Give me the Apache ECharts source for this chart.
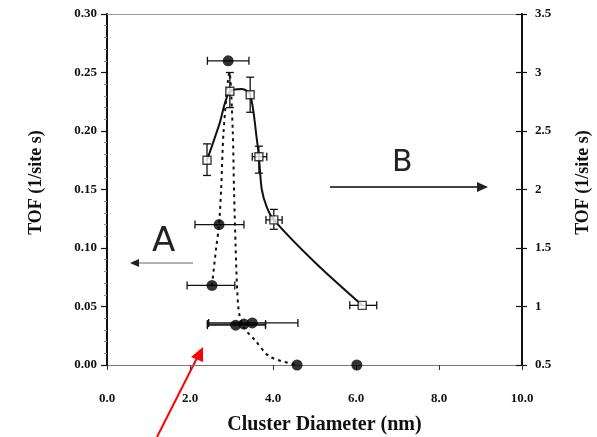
<!DOCTYPE html>
<html>
<head>
<meta charset="utf-8">
<script src="https://cdn.jsdelivr.net/npm/echarts@6/dist/echarts.min.js"></script>
<style>
  html, body { margin: 0; padding: 0; background: #fff; }
  #chart { width: 597px; height: 437px; }
</style>
</head>
<body>
<div id="chart"></div>
<script>
// filled circles, TOF on left axis: [diameter, tof, xLow, xHigh]
var filledPts = [
  [2.92, 0.260, 2.42, 3.42],
  [2.70, 0.120, 2.12, 3.30],
  [2.53, 0.068, 1.93, 3.08],
  [3.10, 0.034, 2.42, 3.82],
  [3.30, 0.035, 2.42, 3.82],
  [3.50, 0.036, 2.45, 4.60],
  [4.58, 0.000, null, null],
  [6.02, 0.000, null, null]
];
// dotted guide through the filled circles
var dottedCurve = [
  [2.53, 0.068], [2.63, 0.10], [2.70, 0.12], [2.75, 0.15], [2.81, 0.20],
  [2.95, 0.25], [3.03, 0.20], [3.06, 0.15], [3.10, 0.10], [3.13, 0.07],
  [3.18, 0.045], [3.30, 0.032], [3.57, 0.021], [3.93, 0.007], [4.58, 0.0]
];
// open symbols, TOF on right axis: [diameter, tof, yLow, yHigh, xLow, xHigh]
var openPts = [
  [2.41, 2.25, 2.12, 2.39, null, null],
  [2.96, 2.84, 2.70, 3.00, null, null],
  [3.45, 2.81, 2.66, 2.96, null, null],
  [3.66, 2.28, 2.14, 2.37, 3.50, 3.85],
  [4.02, 1.74, 1.66, 1.83, 3.83, 4.22],
  [6.15, 1.01, null, null, 5.85, 6.50]
];
// solid guide through the open symbols
var solidCurve = [
  [2.41, 2.25], [2.70, 2.55], [2.96, 2.84], [3.25, 2.86], [3.45, 2.81],
  [3.61, 2.43], [3.66, 2.28], [3.73, 2.00], [3.85, 1.85], [4.02, 1.74],
  [5.00, 1.38], [6.15, 1.01]
];
var xTicks = [0, 2, 4, 6, 8, 10];
var leftTicks = [0, 0.05, 0.10, 0.15, 0.20, 0.25, 0.30];
var rightTicks = [0.5, 1, 1.5, 2, 2.5, 3, 3.5];

var labelFont = { color: "#111", fontFamily: "Liberation Serif", fontWeight: "bold", fontSize: 13 };
var nameFont = { color: "#111", fontFamily: "Liberation Serif", fontWeight: "bold", fontSize: 18 };

// error bars, horizontal or vertical, with small caps
function errBars(rows, yIdx, lo, hi, horiz) {
  var data = rows.filter(function (r) { return r[lo] != null; })
    .map(function (r) { return [r[0], r[1], r[lo], r[hi]]; });
  return {
    type: "custom",
    yAxisIndex: yIdx,
    silent: true,
    z: 3,
    data: data,
    renderItem: function (params, api) {
      var x = api.value(0), y = api.value(1), a = api.value(2), b = api.value(3);
      var p1 = horiz ? api.coord([a, y]) : api.coord([x, a]);
      var p2 = horiz ? api.coord([b, y]) : api.coord([x, b]);
      var c = 4;
      var st = { stroke: "#111", lineWidth: 1.3 };
      var kids = [{ type: "line", shape: { x1: p1[0], y1: p1[1], x2: p2[0], y2: p2[1] }, style: st }];
      [p1, p2].forEach(function (p) {
        kids.push({
          type: "line",
          shape: horiz ? { x1: p[0], y1: p[1] - c, x2: p[0], y2: p[1] + c }
                       : { x1: p[0] - c, y1: p[1], x2: p[0] + c, y2: p[1] },
          style: st
        });
      });
      return { type: "group", children: kids };
    }
  };
}

var myChart = echarts.init(document.getElementById("chart"));
myChart.setOption({
  animation: false,
  backgroundColor: "#fff",
  grid: { left: 107, right: 75, top: 14, bottom: 72, outerBoundsMode: "none" },
  xAxis: [
    {
      type: "value",
      min: 0, max: 10, interval: 2,
      name: "Cluster Diameter (nm)",
      nameLocation: "middle",
      nameGap: 50,
      nameTextStyle: Object.assign({}, nameFont, { fontSize: 20, padding: [0, 0, 0, 20] }),
      axisLine: { show: true, onZero: false, lineStyle: { color: "#777", width: 1.2 } },
      axisTick: { show: true, inside: false, length: 5, lineStyle: { color: "#333" } },
      axisLabel: Object.assign({}, labelFont, { margin: 27, formatter: function (v) { return v.toFixed(1); } }),
      splitLine: { show: false }
    },
    {
      type: "value",
      position: "top",
      min: 0, max: 10,
      axisLine: { show: true, onZero: false, lineStyle: { color: "#999", width: 1.2 } },
      axisTick: { show: false },
      axisLabel: { show: false },
      splitLine: { show: false }
    }
  ],
  yAxis: [
    {
      type: "value",
      position: "left",
      min: 0, max: 0.3, interval: 0.05,
      name: "TOF (1/site s)",
      nameLocation: "middle",
      nameGap: 62,
      nameTextStyle: Object.assign({}, nameFont, { padding: [0, 0, 0, 14] }),
      axisLine: { show: true, onZero: false, lineStyle: { color: "#111", width: 2 } },
      axisTick: { show: true, length: 6, lineStyle: { color: "#111", width: 1.2 } },
      minorTick: { show: true, splitNumber: 5, length: 3, lineStyle: { color: "#888" } },
      axisLabel: Object.assign({}, labelFont, { margin: 10, formatter: function (v) { return v.toFixed(2); } }),
      splitLine: { show: false }
    },
    {
      type: "value",
      position: "right",
      min: 0.5, max: 3.5, interval: 0.5,
      name: "TOF (1/site s)",
      nameLocation: "middle",
      nameGap: 52,
      nameRotate: 90,
      nameTextStyle: Object.assign({}, nameFont, { padding: [0, 0, 0, 14] }),
      axisLine: { show: true, onZero: false, lineStyle: { color: "#111", width: 2 } },
      axisTick: { show: true, length: 5, lineStyle: { color: "#111", width: 1.2 } },
      axisLabel: Object.assign({}, labelFont, { margin: 13 }),
      splitLine: { show: false }
    },
    {
      // inward half of the right-hand ticks
      type: "value",
      position: "right",
      min: 0.5, max: 3.5, interval: 0.5,
      axisLine: { show: false, onZero: false },
      axisTick: { show: true, inside: true, length: 6, lineStyle: { color: "#111", width: 1.2 } },
      axisLabel: { show: false },
      splitLine: { show: false }
    }
  ],
  series: [
    {
      name: "dotted",
      type: "line",
      yAxisIndex: 0,
      data: dottedCurve,
      smooth: 0.3,
      showSymbol: false,
      silent: true,
      lineStyle: { color: "#111", width: 2, type: [3, 4] },
      z: 2
    },
    {
      name: "solid",
      type: "line",
      yAxisIndex: 1,
      data: solidCurve,
      smooth: 0.3,
      showSymbol: false,
      silent: true,
      lineStyle: { color: "#111", width: 2 },
      z: 2
    },
    errBars(filledPts, 0, 2, 3, true),
    errBars(openPts, 1, 2, 3, false),
    errBars(openPts, 1, 4, 5, true),
    {
      name: "filled",
      type: "scatter",
      yAxisIndex: 0,
      data: filledPts.map(function (r) { return [r[0], r[1]]; }),
      symbol: "circle",
      symbolSize: 11,
      itemStyle: { color: "#000" },
      z: 5
    },
    {
      name: "open",
      type: "scatter",
      yAxisIndex: 1,
      data: openPts.map(function (r) { return [r[0], r[1]]; }),
      symbol: "rect",
      symbolSize: 8,
      itemStyle: { color: "#fff", borderColor: "#111", borderWidth: 1.4 },
      z: 5
    }
  ],
  graphic: [
    { type: "text", left: 152, top: 225, style: { text: "A", font: "34px 'DejaVu Sans'", fill: "#222" } },
    { type: "line", shape: { x1: 193, y1: 263, x2: 136, y2: 263 }, style: { stroke: "#666", lineWidth: 1.2 } },
    { type: "polygon", shape: { points: [[130, 263], [139, 259], [139, 267]] }, style: { fill: "#222" } },
    { type: "text", left: 392, top: 148, style: { text: "B", font: "30px 'DejaVu Sans'", fill: "#222" } },
    { type: "line", shape: { x1: 330, y1: 187, x2: 480, y2: 187 }, style: { stroke: "#444", lineWidth: 2 } },
    { type: "polygon", shape: { points: [[488, 187], [477, 182], [477, 192]] }, style: { fill: "#222" } },
    { type: "line", shape: { x1: 157, y1: 437, x2: 197, y2: 358 }, style: { stroke: "#f00", lineWidth: 2 } },
    { type: "polygon", shape: { points: [[203, 347], [191, 357], [203, 362]] }, style: { fill: "#f00" } }
  ]
});
</script>
</body>
</html>
